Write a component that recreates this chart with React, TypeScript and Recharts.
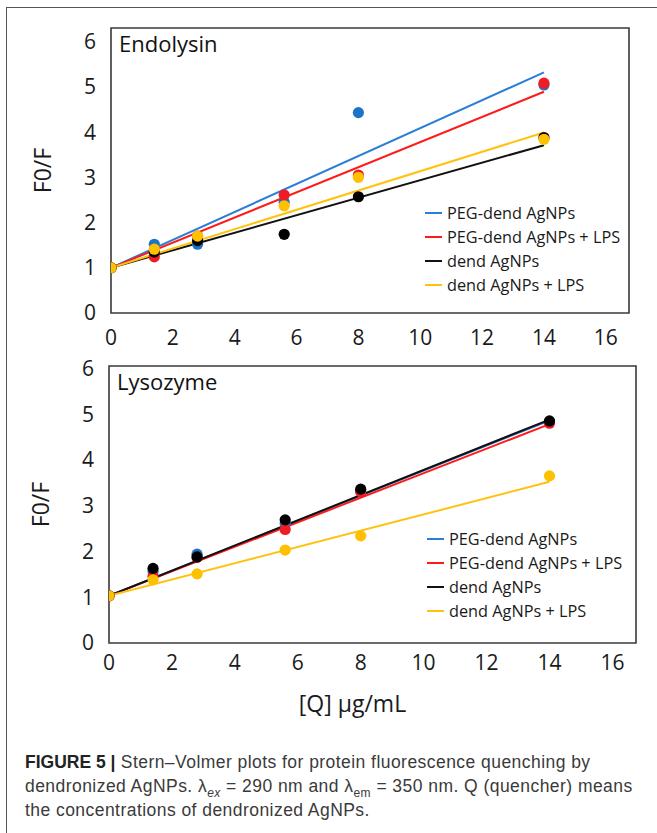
import { ComposedChart, Legend, Line, ReferenceArea, Scatter, XAxis, YAxis } from 'recharts'

// quencher concentration [Q] (µg/mL), shared by every series
const Q = [0, 1.4, 2.8, 5.6, 8.0, 14]
const FIT_Q = [0, 14]
const X_TICKS = [0, 2, 4, 6, 8, 10, 12, 14, 16]
const Y_TICKS = [0, 1, 2, 3, 4, 5, 6]

const SERIES_NAMES = ['PEG-dend AgNPs', 'PEG-dend AgNPs + LPS', 'dend AgNPs', 'dend AgNPs + LPS']
const DOT_COLORS = ['#1d74c6', '#ee1c24', '#000000', '#ffc000']
const LINE_COLORS = ['#2a7ed6', '#ff1a1a', '#111111', '#ffc20e']

// Endolysin, F0/F
const endoPeg = [1.0, 1.52, 1.52, 2.45, 4.43, 5.04]
const endoPegLps = [1.0, 1.24, 1.7, 2.61, 3.05, 5.08]
const endoDend = [1.0, 1.35, 1.6, 1.74, 2.57, 3.88]
const endoDendLps = [1.0, 1.41, 1.7, 2.37, 3.0, 3.84]
// linear fits, F0/F at FIT_Q
const endoFitPeg = [1.0, 5.32]
const endoFitPegLps = [1.0, 4.89]
const endoFitDend = [1.0, 3.71]
const endoFitDendLps = [1.0, 3.99]

// Lysozyme, F0/F
const lysoPeg = [1.03, 1.56, 1.94, 2.61, 3.32, 4.83]
const lysoPegLps = [1.03, 1.46, 1.87, 2.48, 3.3, 4.8]
const lysoDend = [1.03, 1.63, 1.88, 2.69, 3.36, 4.85]
const lysoDendLps = [1.03, 1.38, 1.51, 2.03, 2.34, 3.65]
const lysoFitPeg = [1.03, 4.86]
const lysoFitPegLps = [1.03, 4.78]
const lysoFitDend = [1.03, 4.88]
const lysoFitDendLps = [1.03, 3.52]

const toPoints = (xs: number[], ys: number[]) => xs.map((x, i) => ({ x, y: ys[i] }))

const FONT = '"Open Sans", "DejaVu Sans", sans-serif'

const dotShape = (color: string) => (props: any) => (
  <circle cx={props.cx} cy={props.cy} r={5.6} fill={color} />
)

const renderLegend = (props: any) => (
  <div style={{ fontFamily: FONT, fontSize: 16.3, color: '#1a1a1a' }}>
    {(props.payload ?? [])
      .filter((entry: any) => entry.type !== 'none' && entry.value)
      .map((entry: any) => (
        <div key={entry.value} style={{ display: 'flex', alignItems: 'center', height: 24, whiteSpace: 'nowrap' }}>
          <span style={{ display: 'inline-block', width: 17, height: 2, background: entry.color, marginRight: 5 }} />
          <span>{entry.value}</span>
        </div>
      ))}
  </div>
)

type PanelProps = {
  title: string
  top: number
  height: number
  margin: { top: number; right: number; bottom: number; left: number }
  yMax: number
  xTickMargin: number
  xAxisHeight: number
  xTitle?: string
  legendPos: { left: number; top: number }
  dots: number[][]
  fits: number[][]
}

function Panel({ title, top, height, margin, yMax, xTickMargin, xAxisHeight, xTitle, legendPos, dots, fits }: PanelProps) {
  return (
    <div style={{ position: 'absolute', left: 0, top }}>
      <ComposedChart width={657} height={height} margin={margin}>
        <XAxis
          type="number"
          dataKey="x"
          domain={[0, 16.75]}
          ticks={X_TICKS}
          allowDataOverflow
          axisLine={false}
          tickLine={false}
          tickSize={0}
          tickMargin={xTickMargin}
          height={xAxisHeight}
          tick={{ fontSize: 21, fill: '#1a1a1a', fontFamily: FONT }}
          label={
            xTitle
              ? { value: xTitle, position: 'insideBottom', offset: 1, dx: -20, fontSize: 23, fill: '#1a1a1a', fontFamily: FONT }
              : undefined
          }
        />
        <YAxis
          type="number"
          dataKey="y"
          domain={[0, yMax]}
          ticks={Y_TICKS}
          allowDataOverflow
          axisLine={false}
          tickLine={false}
          tickSize={0}
          tickMargin={15}
          width={68}
          tick={{ fontSize: 21, fill: '#1a1a1a', fontFamily: FONT }}
          label={{
            value: 'F0/F',
            angle: -90,
            position: 'insideLeft',
            offset: 0,
            fontSize: 23,
            fill: '#1a1a1a',
            fontFamily: FONT,
            style: { textAnchor: 'middle' },
          }}
        />
        <ReferenceArea
          x1={0}
          x2={16.75}
          y1={0}
          y2={yMax}
          fill="none"
          stroke="#3a3a3a"
          strokeWidth={1.6}
          ifOverflow="visible"
          label={{ value: title, position: 'insideTopLeft', offset: 8, fontSize: 22, fill: '#111', fontFamily: FONT }}
        />
        {fits.map((f, i) => (
          <Line
            key={`fit-${i}`}
            data={toPoints(FIT_Q, f)}
            dataKey="y"
            name={SERIES_NAMES[i]}
            stroke={LINE_COLORS[i]}
            strokeWidth={2}
            dot={false}
            activeDot={false}
            isAnimationActive={false}
          />
        ))}
        {dots.map((d, i) => (
          <Scatter
            key={`pts-${i}`}
            data={toPoints(Q, d)}
            fill={DOT_COLORS[i]}
            shape={dotShape(DOT_COLORS[i])}
            legendType="none"
            isAnimationActive={false}
          />
        ))}
        <Legend
          layout="vertical"
          align="center"
          verticalAlign="middle"
          content={renderLegend}
          wrapperStyle={{ left: legendPos.left, top: legendPos.top, width: 'auto', right: 'auto', bottom: 'auto' }}
        />
      </ComposedChart>
    </div>
  )
}

export default function App() {
  return (
    <div
      style={{
        position: 'absolute',
        left: 0,
        top: 0,
        width: 657,
        height: 833,
        overflow: 'hidden',
        background: '#fff',
        fontFamily: FONT,
      }}
    >
      <div
        style={{
          position: 'absolute',
          left: 6,
          top: 7,
          width: 660,
          height: 840,
          borderTop: '1.5px solid #555',
          borderLeft: '1.5px solid #555',
        }}
      />
      <Panel
        title="Endolysin"
        top={0}
        height={350}
        margin={{ top: 28, right: 28, bottom: 7, left: 43 }}
        yMax={6.3}
        xTickMargin={17}
        xAxisHeight={30}
        legendPos={{ left: 425, top: 201 }}
        dots={[endoPeg, endoPegLps, endoDend, endoDendLps]}
        fits={[endoFitPeg, endoFitPegLps, endoFitDend, endoFitDendLps]}
      />
      <Panel
        title="Lysozyme"
        top={340}
        height={380}
        margin={{ top: 26, right: 21, bottom: 7, left: 41 }}
        yMax={6.05}
        xTickMargin={12}
        xAxisHeight={70}
        xTitle="[Q] µg/mL"
        legendPos={{ left: 427, top: 187 }}
        dots={[lysoPeg, lysoPegLps, lysoDend, lysoDendLps]}
        fits={[lysoFitPeg, lysoFitPegLps, lysoFitDend, lysoFitDendLps]}
      />
      <div
        style={{
          position: 'absolute',
          left: 25,
          top: 750,
          fontFamily: '"Liberation Sans", Arial, sans-serif',
          fontSize: 17.5,
          lineHeight: '24px',
          color: '#3a3a3a',
          letterSpacing: 0.45,
          whiteSpace: 'nowrap',
        }}
      >
        <div>
          <b style={{ color: '#222', letterSpacing: 0 }}>FIGURE 5 |</b> Stern–Volmer plots for protein fluorescence
          quenching by
        </div>
        <div>
          dendronized AgNPs. λ
          <sub style={{ fontSize: 12, lineHeight: 0 }}>
            <i>ex</i>
          </sub>{' '}
          = 290 nm and λ<sub style={{ fontSize: 12, lineHeight: 0 }}>em</sub> = 350 nm. Q (quencher) means
        </div>
        <div>the concentrations of dendronized AgNPs.</div>
      </div>
    </div>
  )
}
